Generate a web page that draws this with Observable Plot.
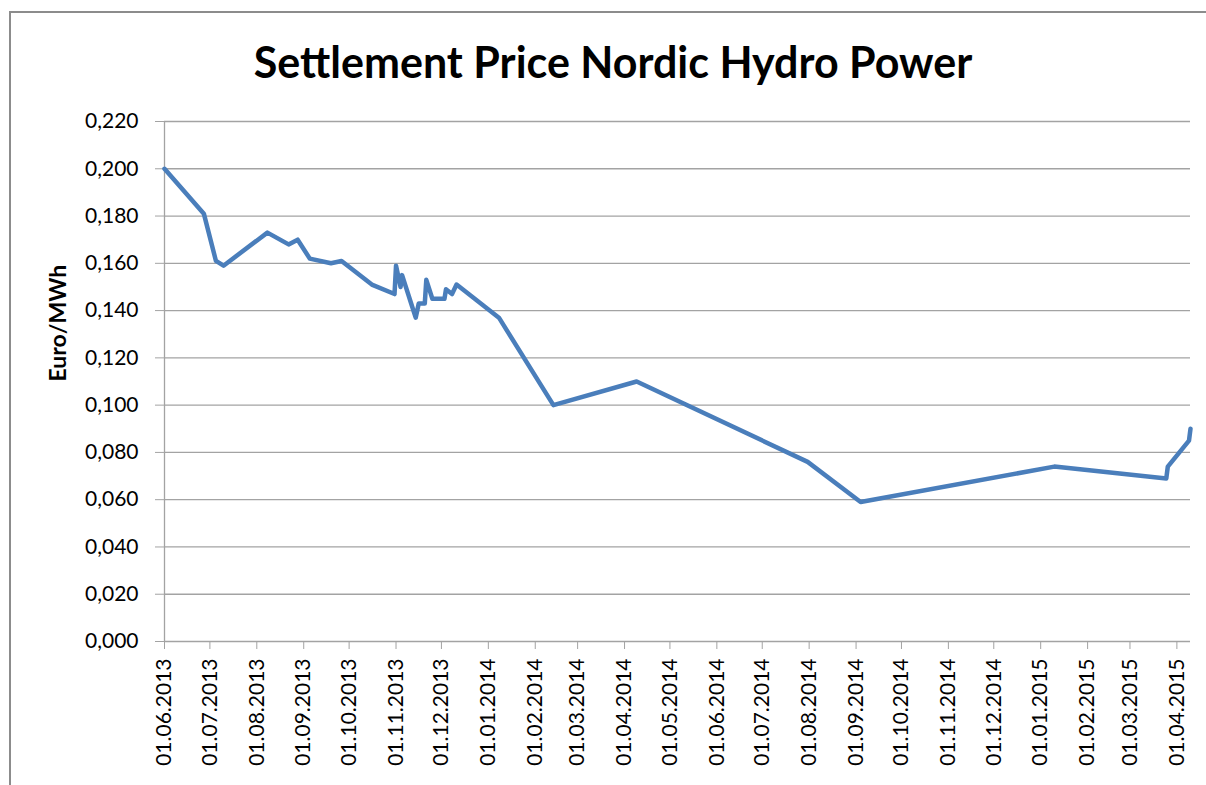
<!DOCTYPE html>
<html><head><meta charset="utf-8">
<script src="https://cdn.jsdelivr.net/npm/d3@7"></script>
<script src="https://cdn.jsdelivr.net/npm/@observablehq/plot@0.6"></script>
<style>
body{margin:0;background:#fff;}
#wrap{position:relative;width:1206px;height:785px;overflow:hidden;font-family:Lato,"Open Sans",sans-serif;}
#frame{position:absolute;left:9px;top:11px;width:1300px;height:900px;border:2px solid #8c8c8c;box-sizing:border-box;}
#title{position:absolute;left:10px;width:1206px;top:36px;text-align:center;font-weight:bold;font-size:43px;color:#000;line-height:1.2;}
#chart{position:absolute;left:0;top:0;}
</style></head>
<body><div id="wrap"><div id="frame"></div><div id="title">Settlement Price Nordic Hydro Power</div><div id="chart"></div></div>
<script>
const titleText = "Settlement Price Nordic Hydro Power";
const yLabel = "Euro/MWh";
const dates = ["2013-06-01","2013-06-27","2013-07-05","2013-07-10","2013-08-08","2013-08-22","2013-08-28","2013-09-05","2013-09-19","2013-09-26","2013-10-16","2013-10-31","2013-11-01","2013-11-04","2013-11-05","2013-11-11","2013-11-14","2013-11-16","2013-11-20","2013-11-21","2013-11-25","2013-12-03","2013-12-04","2013-12-08","2013-12-11","2014-01-08","2014-02-13","2014-04-09","2014-07-31","2014-09-04","2015-01-10","2015-03-25","2015-03-26","2015-04-09","2015-04-10"];
const prices = [0.200,0.181,0.161,0.159,0.173,0.168,0.170,0.162,0.160,0.161,0.151,0.147,0.159,0.150,0.155,0.143,0.137,0.143,0.143,0.153,0.145,0.145,0.149,0.147,0.151,0.137,0.100,0.110,0.076,0.059,0.074,0.069,0.074,0.085,0.090];
const yTicks = [0,0.02,0.04,0.06,0.08,0.10,0.12,0.14,0.16,0.18,0.20,0.22];
const xStart = "2013-06-01", xEnd = "2015-04-10";

const parse = d3.utcParse("%Y-%m-%d");
const data = dates.map((d, i) => ({date: parse(d), price: prices[i]}));
const xDomain = [parse(xStart), parse(xEnd)];
const monthTicks = d3.utcMonth.range(xDomain[0], d3.utcDay.offset(xDomain[1], 1));
const fmtDate = d3.utcFormat("%d.%m.%Y");
const fmtY = d => d3.format(".3f")(d).replace(".", ",");

const chart = Plot.plot({
  width: 1206, height: 785,
  marginLeft: 164, marginRight: 16, marginTop: 121, marginBottom: 144,
  style: {fontFamily: "Lato, sans-serif", fontSize: "21px", color: "#000", background: "transparent", overflow: "visible"},
  x: {type: "utc", domain: xDomain},
  y: {domain: [0, 0.22]},
  marks: [
    Plot.gridY(yTicks, {stroke: "#a3a3a3", strokeOpacity: 1, strokeWidth: 1.3}),
    Plot.ruleX([xDomain[0]], {stroke: "#a3a3a3", strokeWidth: 1.3}),
    Plot.axisY(yTicks, {tickSize: 9, tickPadding: 17, tickFormat: fmtY, stroke: "#a3a3a3", fill: "#000", label: null}),
    Plot.axisX(monthTicks, {tickSize: 8, tickPadding: 9, tickRotate: -90, tickFormat: fmtDate, stroke: "#a3a3a3", fill: "#000", label: null}),
    Plot.text([yLabel], {frameAnchor: "left", dx: -106, rotate: -90, fontWeight: "bold", fontSize: 23, fill: "#000", text: d => d}),
    Plot.lineY(data, {x: "date", y: "price", stroke: "#4a7ebb", strokeWidth: 4.5, strokeLinejoin: "round", strokeLinecap: "round"})
  ]
});
document.getElementById("chart").append(chart);
</script>
</body></html>
